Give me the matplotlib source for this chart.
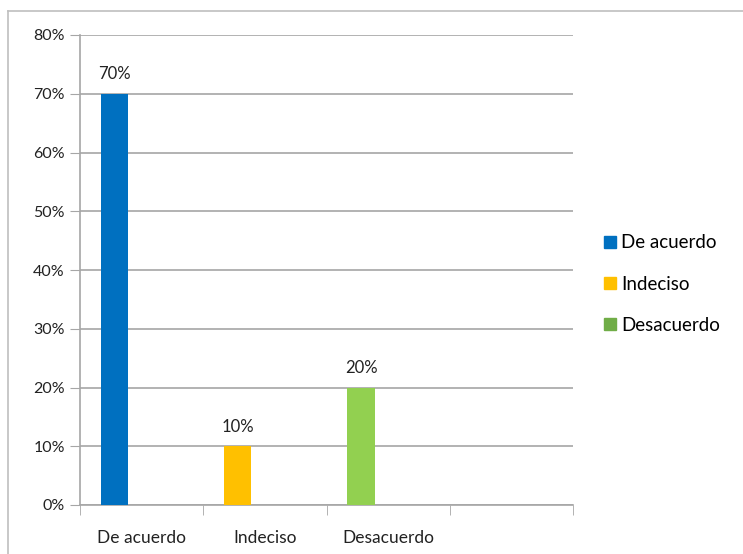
import numpy as np
import matplotlib.pyplot as plt
from matplotlib.lines import Line2D

plt.rcParams['font.family'] = ['Lato', 'DejaVu Sans']

categories = ['De acuerdo', 'Indeciso', 'Desacuerdo', '']
series = ['De acuerdo', 'Indeciso', 'Desacuerdo']
values = [70, 10, 20]
bar_colors = ['#0070C0', '#FFC000', '#92D050']
legend_colors = ['#0070C0', '#FFC000', '#70AD47']
yticks = [0, 10, 20, 30, 40, 50, 60, 70, 80]

W, H = 743, 554
fig = plt.figure(figsize=(W / 100, H / 100), dpi=100)
ax = fig.add_axes([80 / W, (H - 505) / H, (573 - 80) / W, (505 - 35) / H])

x = np.arange(len(series))
offset = -0.22
ax.bar(x + offset, values, width=0.22, color=bar_colors, zorder=3)
for xi, v in zip(x, values):
    ax.text(xi + offset, v + 2.0, f'{v}%', ha='center', va='bottom', fontsize=12, color='#222222')

ax.set_xlim(-0.5, len(categories) - 0.5)
ax.set_ylim(0, 80)
ax.set_yticks(yticks)
ax.set_yticklabels([f'{t}%' for t in yticks], fontsize=11.5, color='#222222')
ax.yaxis.grid(True, color='#a6a6a6', linewidth=1.2, zorder=0)
ax.tick_params(axis='y', length=7, color='#a6a6a6', pad=4)

ax.set_xticks(np.arange(len(categories)))
ax.set_xticklabels(categories, fontsize=12.5, color='#222222')
ax.set_xticks(np.arange(len(categories) + 1) - 0.5, minor=True)
ax.tick_params(axis='x', which='major', length=0, pad=18)
ax.tick_params(axis='x', which='minor', length=7, color='#a6a6a6')

for side in ['top', 'right']:
    ax.spines[side].set_visible(False)
for side in ['left', 'bottom']:
    ax.spines[side].set_color('#a6a6a6')
    ax.spines[side].set_linewidth(1.2)

handles = [Line2D([], [], marker='s', linestyle='', markersize=8, color=c) for c in legend_colors]
fig.legend(handles, series, loc='center left', bbox_to_anchor=(582 / W, (H - 284) / H),
           frameon=False, fontsize=13.5, handletextpad=0.0, labelspacing=1.3, handlelength=1.2)

# outer chart border (top and left only)
fig.add_artist(Line2D([8 / W, 8 / W], [0, (H - 11) / H], color='#bfbfbf', linewidth=1.2))
fig.add_artist(Line2D([8 / W, 1], [(H - 11) / H, (H - 11) / H], color='#bfbfbf', linewidth=1.2))

fig.savefig('out.png', dpi=100)
